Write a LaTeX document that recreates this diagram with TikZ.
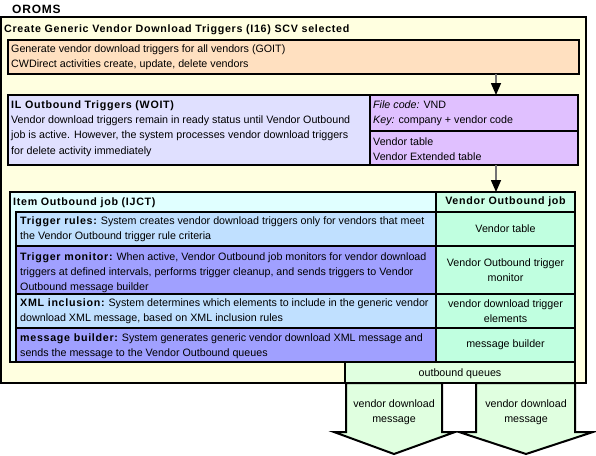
\documentclass[tikz,border=0pt]{standalone}
\usepackage{fontspec}
\setmainfont{Liberation Sans}
\newfontfamily\hdfont[LetterSpace=6.5]{Liberation Sans}
\usetikzlibrary{arrows.meta}
\definecolor{cOuter}{RGB}{255,255,224}
\definecolor{cOrange}{RGB}{255,224,192}
\definecolor{cLav}{RGB}{224,224,255}
\definecolor{cPurp}{RGB}{224,192,255}
\definecolor{cCyan}{RGB}{224,255,255}
\definecolor{cBlue}{RGB}{192,224,255}
\definecolor{cPeri}{RGB}{160,160,255}
\definecolor{cMint}{RGB}{192,255,224}
\definecolor{cMintHd}{RGB}{204,255,230}
\definecolor{cGreen}{RGB}{224,255,224}
\begin{document}
\begin{tikzpicture}[x=1pt,y=-1pt,
  box/.style={draw=black, line width=2pt, anchor=north west, inner sep=0pt, outer sep=0pt},
  txt/.style={anchor=north west, inner sep=0pt, align=left, font=\fontsize{10.7}{15.2}\selectfont},
  ctxt/.style={inner sep=0pt, align=center, font=\fontsize{10.7}{15}\selectfont},
  hd/.style={inner sep=0pt, font=\hdfont\bfseries\fontsize{10.7}{15}\selectfont},
  conn/.style={draw=black!55, line width=1.5pt, -{Triangle[color=black,width=10pt,length=12pt]}},
  blk/.style={draw=black, line width=2pt, fill=cGreen, line join=miter}
]
\useasboundingbox (0,0) rectangle (596,455);
% outer
\node[box, fill=cOuter, minimum width=585pt, minimum height=366pt] (outer) at (1,17) {};
\node[hd, anchor=west, font=\hdfont\bfseries\fontsize{12}{14}\selectfont] (oroms) at (12,9) {OROMS};
\node[hd, anchor=west] (title) at (4,29.5) {Create Generic Vendor Download Triggers (I16) SCV selected};
% orange
\node[box, fill=cOrange, minimum width=571pt, minimum height=34pt] (orange) at (8,40) {};
\node[txt] (orangetxt) at (11,44.5) {Generate vendor download triggers for all vendors (GOIT)\\CWDirect activities create, update, delete vendors};
% IL outbound
\node[box, fill=cLav, minimum width=362pt, minimum height=70pt] (illeft) at (8,95) {};
\node[txt] (illefttxt) at (11,100.5) {{\hdfont\bfseries IL Outbound Triggers (WOIT)}\\Vendor download triggers remain in ready status until Vendor Outbound\\job is active. However, the system processes vendor download triggers\\for delete activity immediately};
\node[box, fill=cPurp, minimum width=208pt, minimum height=36pt] (ilr1) at (370,95) {};
\node[txt] (ilr1txt) at (373,100.5) {\textit{File code:} VND\\\textit{Key:} company + vendor code};
\node[box, fill=cPurp, minimum width=208pt, minimum height=34pt] (ilr2) at (370,131) {};
\node[txt] (ilr2txt) at (373,137.5) {Vendor table\\Vendor Extended table};
% item outbound
\node[box, fill=cCyan, minimum width=565pt, minimum height=170pt] (item) at (10,192) {};
\node[hd, anchor=west] (itemhd) at (13,202.5) {Item Outbound job (IJCT)};
\node[box, fill=cMintHd, minimum width=139pt, minimum height=20pt] (vhd) at (436,192) {};
\node[hd] (vhdtxt) at (vhd.center) {Vendor Outbound job};
% rows
\node[box, fill=cBlue, minimum width=420pt, minimum height=34pt] (r1) at (16,212) {};
\node[box, fill=cMint, minimum width=139pt, minimum height=34pt] (r1r) at (436,212) {};
\node[box, fill=cPeri, minimum width=420pt, minimum height=48pt] (r2) at (16,246) {};
\node[box, fill=cMint, minimum width=139pt, minimum height=48pt] (r2r) at (436,246) {};
\node[box, fill=cBlue, minimum width=420pt, minimum height=34pt] (r3) at (16,294) {};
\node[box, fill=cMint, minimum width=139pt, minimum height=34pt] (r3r) at (436,294) {};
\node[box, fill=cPeri, minimum width=420pt, minimum height=34pt] (r4) at (16,328) {};
\node[box, fill=cMint, minimum width=139pt, minimum height=34pt] (r4r) at (436,328) {};
\node[txt] (r1txt) at (20,216.5) {{\hdfont\bfseries Trigger rules:} System creates vendor download triggers only for vendors that meet\\the Vendor Outbound trigger rule criteria};
\node[txt] (r2txt) at (20,252.5) {{\hdfont\bfseries Trigger monitor:} When active, Vendor Outbound job monitors for vendor download\\triggers at defined intervals, performs trigger cleanup, and sends triggers to Vendor\\Outbound message builder};
\node[txt] (r3txt) at (20,298.5) {{\hdfont\bfseries XML inclusion:} System determines which elements to include in the generic vendor\\download XML message, based on XML inclusion rules};
\node[txt] (r4txt) at (20,333.5) {{\hdfont\bfseries message builder:} System generates generic vendor download XML message and\\sends the message to the Vendor Outbound queues};
\node[ctxt] (r1rtxt) at (r1r.center) {Vendor table};
\node[ctxt] (r2rtxt) at (r2r.center) {Vendor Outbound trigger\\monitor};
\node[ctxt] (r3rtxt) at (r3r.center) {vendor download trigger\\elements};
\node[ctxt] (r4rtxt) at (r4r.center) {message builder};
% block arrows
\draw[blk] (346,383) -- (442,383) -- (442,432) -- (455,432) -- (394,454) -- (334,432) -- (346,432) -- cycle;
\draw[blk] (476,383) -- (575,383) -- (575,432) -- (593,432) -- (526,454) -- (459,432) -- (476,432) -- cycle;
\node[ctxt] (m1) at (394,412) {vendor download\\message};
\node[ctxt] (m2) at (526,412) {vendor download\\message};
% queues
\node[box, fill=cGreen, line width=1.5pt, minimum width=230pt, minimum height=21pt] (queues) at (345,362) {};
\node[ctxt] (queuestxt) at ([yshift=-1.5pt]queues.center) {outbound queues};
% connectors
\coordinate (ax) at (496,0);
\draw[conn] (orange.south -| ax) -- (ilr1.north -| ax);
\draw[conn] (ilr2.south -| ax) -- (vhd.north -| ax);
\end{tikzpicture}
\end{document}
